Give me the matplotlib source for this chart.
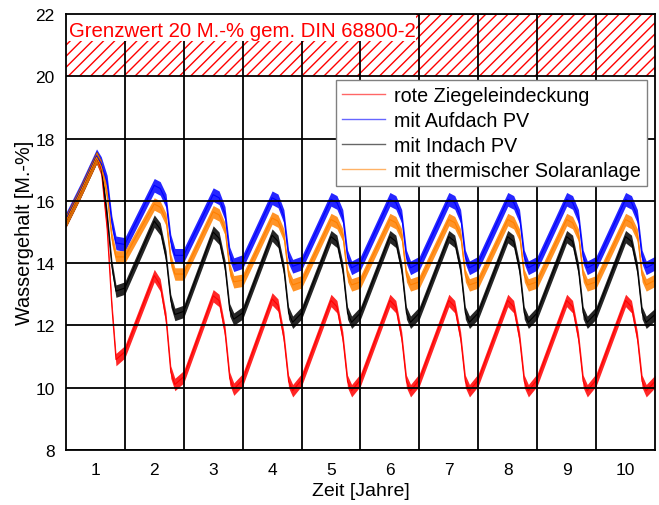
import matplotlib
matplotlib.use("Agg")
import matplotlib.pyplot as plt
from matplotlib.patches import Rectangle
import numpy as np

plt.rcParams['font.family'] = ['Liberation Sans', 'DejaVu Sans']
plt.rcParams['hatch.color'] = 'red'
plt.rcParams['hatch.linewidth'] = 1.0

# ---- data ----
t = [0.0, 0.25, 0.52, 0.6, 0.7, 0.78, 0.85,
     1.0, 1.5, 1.6, 1.7, 1.78, 1.85,
     2.0, 2.5, 2.6, 2.7, 2.78, 2.85,
     3.0, 3.5, 3.6, 3.7, 3.78, 3.85,
     4.0, 4.5, 4.6, 4.7, 4.78, 4.85,
     5.0, 5.5, 5.6, 5.7, 5.78, 5.85,
     6.0, 6.5, 6.6, 6.7, 6.78, 6.85,
     7.0, 7.5, 7.6, 7.7, 7.78, 7.85,
     8.0, 8.5, 8.6, 8.7, 8.78, 8.85,
     9.0, 9.5, 9.6, 9.7, 9.78, 9.85,
     10.0]

rot = [15.35, 16.3, 17.4, 17.0, 15.1, 12.6, 10.9,
       11.15, 13.6, 13.3, 12.2, 10.5, 10.1,
       10.35, 12.95, 12.8, 11.8, 10.3, 9.95,
       10.25, 12.85, 12.65, 11.6, 10.2, 9.9,
       10.25, 12.8, 12.6, 11.6, 10.2, 9.9,
       10.25, 12.8, 12.6, 11.6, 10.2, 9.9,
       10.25, 12.8, 12.6, 11.6, 10.2, 9.9,
       10.25, 12.8, 12.6, 11.6, 10.2, 9.9,
       10.25, 12.8, 12.6, 11.6, 10.2, 9.9,
       10.25, 12.8, 12.6, 11.6, 10.2, 9.9,
       10.2]

aufdach = [15.4, 16.35, 17.45, 17.2, 16.6, 15.3, 14.65,
           14.6, 16.5, 16.4, 16.0, 14.7, 14.25,
           14.25, 16.2, 16.1, 15.6, 14.3, 13.95,
           14.05, 16.1, 16.0, 15.5, 14.2, 13.9,
           14.0, 16.05, 15.95, 15.5, 14.2, 13.85,
           14.0, 16.05, 15.95, 15.5, 14.2, 13.85,
           14.0, 16.05, 15.95, 15.5, 14.2, 13.85,
           14.0, 16.05, 15.95, 15.5, 14.2, 13.85,
           14.0, 16.05, 15.95, 15.5, 14.2, 13.85,
           14.0, 16.05, 15.95, 15.5, 14.2, 13.85,
           14.0]

indach = [15.35, 16.3, 17.4, 17.1, 15.5, 13.9, 13.1,
          13.2, 15.35, 15.1, 14.2, 12.8, 12.35,
          12.45, 15.0, 14.8, 13.9, 12.5, 12.2,
          12.4, 14.9, 14.7, 13.8, 12.4, 12.1,
          12.4, 14.85, 14.7, 13.8, 12.4, 12.1,
          12.4, 14.85, 14.7, 13.8, 12.4, 12.1,
          12.4, 14.85, 14.7, 13.8, 12.4, 12.1,
          12.4, 14.85, 14.7, 13.8, 12.4, 12.1,
          12.4, 14.85, 14.7, 13.8, 12.4, 12.1,
          12.4, 14.85, 14.7, 13.8, 12.4, 12.1,
          12.35]

solar = [15.35, 16.3, 17.4, 17.1, 16.2, 14.8, 14.2,
         14.2, 15.9, 15.8, 15.4, 14.1, 13.65,
         13.65, 15.65, 15.55, 15.1, 13.8, 13.4,
         13.45, 15.45, 15.35, 14.9, 13.6, 13.3,
         13.4, 15.4, 15.3, 14.9, 13.6, 13.3,
         13.4, 15.4, 15.3, 14.9, 13.6, 13.3,
         13.4, 15.4, 15.3, 14.9, 13.6, 13.3,
         13.4, 15.4, 15.3, 14.9, 13.6, 13.3,
         13.4, 15.4, 15.3, 14.9, 13.6, 13.3,
         13.4, 15.4, 15.3, 14.9, 13.6, 13.3,
         13.45]

# noise half-amplitude of each series (M.-%)
spread = {'rot': 0.2, 'aufdach': 0.22, 'indach': 0.2, 'solar': 0.2}

labels = ['rote Ziegeleindeckung', 'mit Aufdach PV', 'mit Indach PV',
          'mit thermischer Solaranlage']
year_labels = ['1', '2', '3', '4', '5', '6', '7', '8', '9', '10']
y_ticks = [8, 10, 12, 14, 16, 18, 20, 22]
grenzwert = 20
grenz_text = 'Grenzwert 20 M.-% gem. DIN 68800-2'

# ---- plot ----
fig = plt.figure(figsize=(6.59, 5.06), dpi=100)
ax = fig.add_axes([0.100, 0.109, 0.894, 0.861])

series = [(rot, 'rot', '#ff0000'), (aufdach, 'aufdach', '#0000ff'),
          (indach, 'indach', '#000000'), (solar, 'solar', '#ff8000')]
tt = np.array(t)
handles = []
for (vals, key, col), lab in zip(series, labels):
    v = np.array(vals)
    s = spread[key]
    ax.fill_between(tt, v - s, v + s, color=col, alpha=0.85, linewidth=0, zorder=1.5)
    h, = ax.plot(tt, v, color=col, linewidth=0.8, zorder=1.6, label=lab)
    handles.append(h)

# limit region
ax.axhspan(grenzwert, 22, facecolor='white', edgecolor='red', hatch='///',
           linewidth=0, zorder=0.5)
ax.add_patch(Rectangle((0, 21.13), 5.95, 0.87, facecolor='white',
                       edgecolor='none', zorder=3))
ax.text(0.05, 21.29, grenz_text, color='red', fontsize=14.7, va='baseline',
        ha='left', zorder=4)

ax.set_xlim(0, 10)
ax.set_ylim(8, 22)
ax.set_xticks(np.arange(10) + 0.5)
ax.set_xticklabels(year_labels)
ax.set_xticks(np.arange(1, 10), minor=True)
ax.set_yticks(y_ticks)
ax.tick_params(axis='both', which='both', length=0, labelsize=12.5)
ax.tick_params(axis='x', pad=9)
ax.tick_params(axis='y', pad=8)
ax.set_axisbelow(False)
ax.grid(True, axis='x', which='minor', color='black', linewidth=1.3)
ax.grid(True, axis='y', which='major', color='black', linewidth=1.3)
for sp in ax.spines.values():
    sp.set_linewidth(1.3)
    sp.set_zorder(5)

ax.set_xlabel('Zeit [Jahre]', fontsize=14, labelpad=3)
ax.set_ylabel('Wassergehalt [M.-%]', fontsize=14.3, labelpad=1)

leg = ax.legend(handles=handles, loc='upper right', bbox_to_anchor=(0.986, 0.849),
                borderaxespad=0, fontsize=14.2, frameon=True, fancybox=False,
                framealpha=1, edgecolor='#808080', handlelength=2.2,
                handletextpad=0.45, labelspacing=0.3, borderpad=0.3)
leg.set_zorder(6)
leg.get_frame().set_linewidth(1.0)
for l in leg.get_lines():
    l.set_linewidth(1.0)
    l.set_alpha(0.6)

fig.savefig('out.png', dpi=100)
